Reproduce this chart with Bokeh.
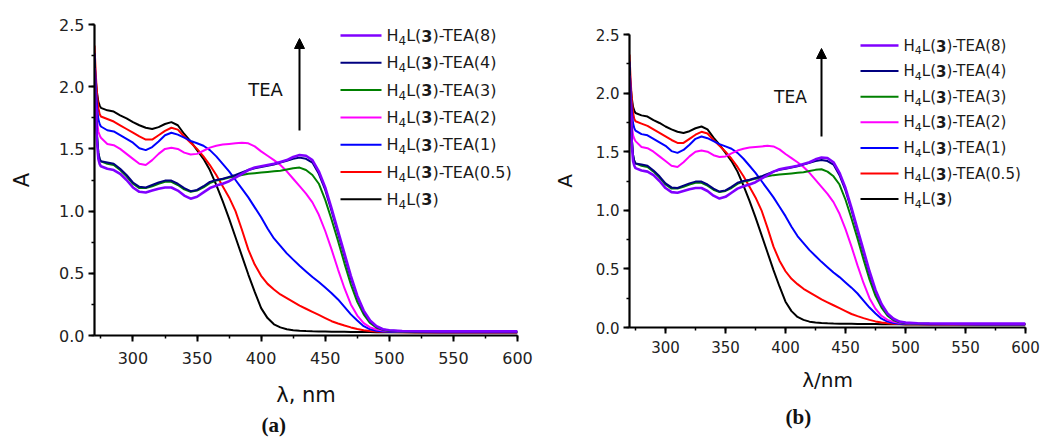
from bokeh.plotting import figure
from bokeh.models import (Range1d, SingleIntervalTicker, PrintfTickFormatter, Label, Arrow,
                          NormalHead, Title)
from bokeh.layouts import row
from bokeh.embed import file_html
from bokeh.resources import INLINE

# ---------------- data ----------------
wavelength = [270, 271, 272, 273, 274, 275,
              280, 285, 290, 295, 300, 305, 310, 315, 320, 325, 330, 335, 340, 345,
              350, 355, 360, 365, 370, 375, 380, 385, 390, 395, 400, 405, 410, 415,
              420, 425, 430, 435, 440, 445, 450, 455, 460, 465, 470, 475, 480, 485,
              490, 495, 500, 510, 520, 540, 560, 580, 600]

a_h4l = [2.20, 2.05, 1.95, 1.88, 1.85, 1.83,
         1.81, 1.80, 1.77, 1.745, 1.715, 1.69, 1.67, 1.66, 1.675, 1.70, 1.715, 1.69, 1.62, 1.56,
         1.49, 1.42, 1.33, 1.21, 1.08, 0.94, 0.79, 0.64, 0.49, 0.35, 0.22, 0.14, 0.09, 0.065,
         0.05, 0.043, 0.039, 0.036, 0.034, 0.033, 0.032, 0.031, 0.03, 0.03, 0.029, 0.029, 0.028, 0.028,
         0.027, 0.027, 0.026, 0.026, 0.025, 0.025, 0.025, 0.025, 0.025]

a_tea05 = [2.33, 2.10, 1.93, 1.83, 1.78, 1.76,
           1.74, 1.72, 1.69, 1.66, 1.63, 1.60, 1.575, 1.575, 1.61, 1.645, 1.67, 1.655, 1.60, 1.55,
           1.50, 1.44, 1.37, 1.29, 1.20, 1.11, 1.00, 0.85, 0.69, 0.57, 0.48, 0.415, 0.37, 0.33,
           0.30, 0.27, 0.24, 0.215, 0.19, 0.165, 0.14, 0.115, 0.097, 0.08, 0.065, 0.052, 0.042, 0.036,
           0.032, 0.03, 0.028, 0.027, 0.026, 0.025, 0.025, 0.025, 0.025]

a_tea1 = [2.27, 2.00, 1.83, 1.74, 1.70, 1.68,
          1.65, 1.64, 1.61, 1.58, 1.55, 1.505, 1.49, 1.515, 1.56, 1.61, 1.63, 1.615, 1.59, 1.565,
          1.545, 1.525, 1.49, 1.44, 1.38, 1.32, 1.25, 1.18, 1.11, 1.03, 0.95, 0.86, 0.78, 0.72,
          0.66, 0.61, 0.56, 0.515, 0.47, 0.43, 0.385, 0.34, 0.29, 0.23, 0.17, 0.12, 0.075, 0.05,
          0.038, 0.033, 0.031, 0.029, 0.028, 0.027, 0.026, 0.026, 0.026]

a_tea2 = [2.15, 1.90, 1.72, 1.64, 1.61, 1.59,
          1.54, 1.53, 1.50, 1.46, 1.42, 1.38, 1.37, 1.41, 1.46, 1.50, 1.51, 1.50, 1.47, 1.455,
          1.46, 1.485, 1.51, 1.525, 1.535, 1.54, 1.545, 1.55, 1.545, 1.52, 1.48, 1.445, 1.41, 1.37,
          1.32, 1.26, 1.20, 1.14, 1.07, 0.97, 0.84, 0.69, 0.53, 0.38, 0.25, 0.16, 0.10, 0.065,
          0.048, 0.04, 0.036, 0.032, 0.03, 0.03, 0.03, 0.03, 0.03]

a_tea3 = [2.20, 1.85, 1.60, 1.47, 1.42, 1.40,
          1.38, 1.37, 1.33, 1.28, 1.22, 1.185, 1.185, 1.20, 1.22, 1.235, 1.235, 1.21, 1.175, 1.155,
          1.165, 1.19, 1.225, 1.245, 1.255, 1.27, 1.28, 1.29, 1.30, 1.305, 1.31, 1.315, 1.32, 1.325,
          1.335, 1.345, 1.35, 1.33, 1.29, 1.22, 1.09, 0.93, 0.76, 0.58, 0.41, 0.27, 0.17, 0.10,
          0.062, 0.045, 0.037, 0.033, 0.031, 0.03, 0.03, 0.03, 0.03]

a_tea4 = [2.22, 1.87, 1.60, 1.47, 1.42, 1.40,
          1.39, 1.38, 1.34, 1.29, 1.23, 1.195, 1.19, 1.21, 1.23, 1.245, 1.245, 1.22, 1.185, 1.16,
          1.17, 1.20, 1.235, 1.25, 1.26, 1.275, 1.29, 1.31, 1.33, 1.345, 1.355, 1.365, 1.375, 1.39,
          1.405, 1.42, 1.43, 1.42, 1.39, 1.30, 1.17, 1.00, 0.82, 0.64, 0.46, 0.31, 0.19, 0.115,
          0.07, 0.048, 0.04, 0.034, 0.031, 0.03, 0.03, 0.03, 0.03]

a_tea8 = [2.15, 1.80, 1.55, 1.42, 1.38, 1.36,
          1.34, 1.33, 1.30, 1.25, 1.19, 1.155, 1.15, 1.165, 1.18, 1.19, 1.19, 1.165, 1.125, 1.10,
          1.115, 1.15, 1.185, 1.205, 1.22, 1.24, 1.27, 1.30, 1.33, 1.35, 1.36, 1.37, 1.38, 1.395,
          1.41, 1.435, 1.45, 1.445, 1.41, 1.32, 1.19, 1.02, 0.84, 0.66, 0.48, 0.32, 0.20, 0.12,
          0.075, 0.05, 0.042, 0.036, 0.034, 0.033, 0.033, 0.033, 0.033]

# legend order (top to bottom)
legend_suffix = ["-TEA(8)", "-TEA(4)", "-TEA(3)", "-TEA(2)", "-TEA(1)", "-TEA(0.5)", ""]
series_values = [a_tea8, a_tea4, a_tea3, a_tea2, a_tea1, a_tea05, a_h4l]
series_colors = ["#8000ff", "#000080", "#008000", "#ff00ff", "#0000ff", "#ff0000", "#000000"]

x_ticks_interval = 50
y_ticks_interval = 0.5
x_label_a = "λ, nm"
x_label_b = "λ/nm"
y_label = "A"
arrow_text = "TEA"
panel_tags = ["(a)", "(b)"]

FONT = "DejaVu Sans"
SERIF = "Liberation Serif"

# DejaVu Sans advance widths (em)
W_H, W_L, W_PAR, W_DIG, W_DIG_B = 0.753, 0.557, 0.390, 0.636, 0.696

H = 439


def rich_label(p, x, y, s, suffix, color="#1a1a1a"):
    sub = round(s * 0.75)
    cx = x
    p.add_layout(Label(x=cx, y=y, x_units="screen", y_units="screen", text="H",
                       text_font=FONT, text_font_size=f"{s}px", text_color=color,
                       text_baseline="middle", text_align="left"))
    cx += W_H * s
    p.add_layout(Label(x=cx, y=y - 0.32 * s, x_units="screen", y_units="screen", text="4",
                       text_font=FONT, text_font_size=f"{sub}px", text_color=color,
                       text_baseline="middle", text_align="left"))
    cx += W_DIG * sub
    p.add_layout(Label(x=cx, y=y, x_units="screen", y_units="screen", text="L(",
                       text_font=FONT, text_font_size=f"{s}px", text_color=color,
                       text_baseline="middle", text_align="left"))
    cx += (W_L + W_PAR) * s
    p.add_layout(Label(x=cx, y=y, x_units="screen", y_units="screen", text="3",
                       text_font=FONT, text_font_size=f"{s}px", text_color=color,
                       text_font_style="bold", text_baseline="middle", text_align="left"))
    cx += W_DIG_B * s
    p.add_layout(Label(x=cx, y=y, x_units="screen", y_units="screen", text=")" + suffix,
                       text_font=FONT, text_font_size=f"{s}px", text_color=color,
                       text_baseline="middle", text_align="left"))


def make_panel(cfg, tag, xlabel):
    fw, fh = cfg["frame_w"], cfg["frame_h"]
    p = figure(width=cfg["w"], height=H, x_range=Range1d(270, 600), y_range=Range1d(0, 2.5),
               output_backend="svg", toolbar_location=None, title=None,
               min_border_left=cfg["bl"], min_border_right=cfg["w"] - cfg["bl"] - fw,
               min_border_top=cfg["bt"], min_border_bottom=H - cfg["bt"] - fh)
    p.frame_align = False
    p.grid.visible = False
    p.outline_line_color = None
    p.background_fill_color = "white"
    p.border_fill_color = "white"

    for vals, col in reversed(list(zip(series_values, series_colors))):
        lw = 2.6 if col == "#8000ff" else 2.0
        p.line(wavelength, vals, line_color=col, line_width=lw)

    for ax in (p.xaxis[0], p.yaxis[0]):
        ax.axis_line_width = 2.2
        ax.axis_line_color = "black"
        ax.major_tick_line_width = 2
        ax.minor_tick_line_width = 1.5
        ax.major_tick_out = 6
        ax.major_tick_in = 0
        ax.minor_tick_out = 3
        ax.minor_tick_in = 0
        ax.major_label_text_font = FONT
        ax.major_label_text_font_size = f"{cfg['tick_fs']}px"
        ax.major_label_text_color = "#222222"
        ax.axis_label_text_font = FONT
        ax.axis_label_text_font_style = "normal"
        ax.axis_label_text_font_size = f"{cfg['lab_fs']}px"
        ax.axis_label_text_color = "#111111"
    p.xaxis.ticker = SingleIntervalTicker(interval=x_ticks_interval, num_minor_ticks=2)
    p.yaxis.ticker = SingleIntervalTicker(interval=y_ticks_interval, num_minor_ticks=2)
    p.xaxis.formatter = PrintfTickFormatter(format="%d")
    p.yaxis.formatter = PrintfTickFormatter(format="%.1f")
    p.xaxis.major_label_standoff = cfg["x_std"]
    p.yaxis.major_label_standoff = cfg["y_std"]
    p.xaxis.axis_label = xlabel
    p.yaxis.axis_label = y_label
    p.xaxis.axis_label_standoff = cfg["xl_std"]
    p.yaxis.axis_label_standoff = cfg["yl_std"]

    # legend
    s = cfg["leg_fs"]
    for i, (suffix, col) in enumerate(zip(legend_suffix, series_colors)):
        y = cfg["leg_y0"] - i * cfg["leg_dy"]
        lw = 2.6 if col == "#8000ff" else 2.0
        p.add_layout(Arrow(x_start=cfg["leg_l0"], x_end=cfg["leg_l1"], y_start=y, y_end=y,
                           start_units="screen", end_units="screen", start=None, end=None,
                           line_color=col, line_width=lw))
        rich_label(p, cfg["leg_tx"], y, s, suffix)

    # arrow + TEA
    p.add_layout(Arrow(x_start=cfg["ar_x"], x_end=cfg["ar_x"], y_start=cfg["ar_y0"], y_end=cfg["ar_y1"],
                       start_units="screen", end_units="screen", line_width=2, line_color="black",
                       end=NormalHead(size=10, fill_color="black", line_color="black", line_width=1)))
    p.add_layout(Label(x=cfg["tea_x"], y=cfg["tea_y"], x_units="screen", y_units="screen",
                       text=arrow_text, text_font=FONT, text_font_size=f"{cfg['tea_fs']}px",
                       text_color="#111111", text_align="center", text_baseline="middle"))

    # panel tag below the x-axis label
    p.add_layout(Title(text=tag, align="left", offset=cfg["tag_off"], standoff=cfg["tag_std"],
                       text_font=SERIF, text_font_size=f"{cfg['tag_fs']}px",
                       text_font_style="bold", text_color="#111111"), "below")
    return p


cfg_a = dict(w=540, bl=94, bt=24, frame_w=423, frame_h=311, tick_fs=16, lab_fs=21,
             x_std=10, y_std=4, xl_std=16, yl_std=22,
             leg_fs=16, leg_y0=300, leg_dy=27.3, leg_l0=246, leg_l1=287, leg_tx=292,
             ar_x=205, ar_y0=205, ar_y1=297, tea_x=171, tea_y=246, tea_fs=18,
             tag_fs=21, tag_off=167, tag_std=2)
cfg_b = dict(w=502, bl=89, bt=34, frame_w=396, frame_h=293, tick_fs=15, lab_fs=20,
             x_std=7, y_std=4, xl_std=12, yl_std=16,
             leg_fs=15, leg_y0=282, leg_dy=25.6, leg_l0=231, leg_l1=269, leg_tx=274,
             ar_x=192, ar_y0=191, ar_y1=279, tea_x=161, tea_y=231, tea_fs=17,
             tag_fs=21, tag_off=156, tag_std=16)

pa = make_panel(cfg_a, panel_tags[0], x_label_a)
pb = make_panel(cfg_b, panel_tags[1], x_label_b)
layout = row(pa, pb)

open("out.html", "w").write(file_html(layout, INLINE))
